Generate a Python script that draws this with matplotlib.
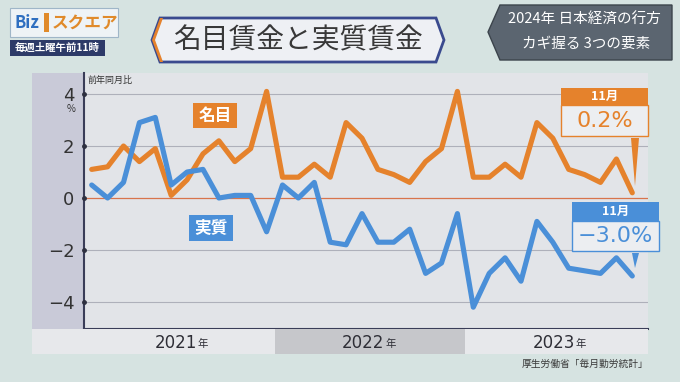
import matplotlib
matplotlib.use("Agg")
import matplotlib.pyplot as plt
from matplotlib.patches import Rectangle, Polygon

plt.rcParams['font.family'] = ['Noto Sans CJK JP', 'DejaVu Sans']

# === データ (前年同月比, %) 2021年1月 〜 2023年11月 ===
years = ['2021', '2022', '2023']
nominal = [1.1, 1.2, 2.0, 1.4, 1.9, 0.1, 0.7, 1.7, 2.2, 1.4, 1.9, 4.1,
           0.8, 0.8, 1.3, 0.8, 2.9, 2.3, 1.1, 0.9, 0.6, 1.4, 1.9, 4.1,
           0.8, 0.8, 1.3, 0.8, 2.9, 2.3, 1.1, 0.9, 0.6, 1.5, 0.2]
real = [0.5, 0.0, 0.6, 2.9, 3.1, 0.5, 1.0, 1.1, 0.0, 0.1, 0.1, -1.3,
        0.5, 0.0, 0.6, -1.7, -1.8, -0.6, -1.7, -1.7, -1.2, -2.9, -2.5, -0.6,
        -4.2, -2.9, -2.3, -3.2, -0.9, -1.7, -2.7, -2.8, -2.9, -2.3, -3.0]
yticks = [-4, -2, 0, 2, 4]
ytick_labels = ['\u22124', '\u22122', '0', '2', '4']
last_month = '11月'
last_nominal = '0.2%'
last_real = '\u22123.0%'

ORANGE = '#e5822c'
BLUE = '#4a8fd8'
W, H = 680, 382

fig = plt.figure(figsize=(6.8, 3.82), dpi=100)
fig.patch.set_facecolor('#d6e3e1')


def px_axes(x0, y0, x1, y1, **kw):
    return fig.add_axes([x0 / W, 1 - y1 / H, (x1 - x0) / W, (y1 - y0) / H], **kw)


# === 背景レイヤー (ピクセル座標) ===
bg = px_axes(0, 0, W, H, zorder=0)
bg.set_xlim(0, W)
bg.set_ylim(H, 0)
bg.axis('off')

# パネル左の列
bg.add_patch(Rectangle((32, 73), 52, 256, fc='#c9cad8', ec='none'))

# ロゴ
bg.add_patch(Rectangle((10, 8), 108, 29, fc='#eef3f6', ec='#9fb6c8', lw=0.8))
bg.text(14, 23, 'Biz', color='#2f6fc0', fontsize=12, fontweight='bold', va='center')
bg.add_patch(Rectangle((44, 13), 5, 19, fc='#e08a2a', ec='none'))
bg.text(52, 23, 'スクエア', color='#e08a2a', fontsize=12, fontweight='bold', va='center')
bg.add_patch(Rectangle((10, 40), 95, 16, fc='#2d3a68', ec='none'))
bg.text(57.5, 48, '毎週土曜午前11時', color='white', fontsize=7.5, fontweight='bold',
        ha='center', va='center')

# タイトル
title_shape = [(160, 18), (436, 18), (444, 40), (436, 62), (160, 62), (152, 40)]
bg.add_patch(Polygon(title_shape, closed=True, fc='#eef0f4', ec='#3a4a8e', lw=2))
bg.add_patch(Polygon([(152, 40), (160, 18), (163, 18), (155, 40), (163, 62), (160, 62)],
                     closed=True, fc=ORANGE, ec='none'))
bg.text(298, 40, '名目賃金と実質賃金', color='#383838', fontsize=20, ha='center', va='center')

# 右上パネル
bg.add_patch(Polygon([(500, 5), (672, 5), (672, 60), (500, 60), (488, 32)],
                     closed=True, fc='#5b6570', ec='#3c444c', lw=1))
bg.text(584, 20, '2024年 日本経済の行方', color='white', fontsize=10.5, ha='center', va='center')
bg.text(586, 44, 'カギ握る 3つの要素', color='white', fontsize=10.5, ha='center', va='center')

# 出典
bg.text(648, 364, '厚生労働省「毎月勤労統計」', color='#3a3a3a', fontsize=7, ha='right', va='center')

# === グラフ本体 ===
x0_px, dx_px = 91.7, 15.9
ax = px_axes(84, 73, 648, 329, zorder=1)
ax.set_facecolor('#e2e4e8')
ax.set_xlim((84 - x0_px) / dx_px, (648 - x0_px) / dx_px)
ax.set_ylim((198 - 329) / 26, (198 - 73) / 26)

months = list(range(len(nominal)))
for v in yticks:
    if v == 0:
        ax.axhline(v, color='#d8744c', lw=0.9, zorder=1)
    else:
        ax.axhline(v, color='#aeb0ba', lw=0.8, zorder=1)

ax.plot(months, nominal, color=ORANGE, lw=3.7, solid_joinstyle='round',
        solid_capstyle='round', zorder=3)
ax.plot(months, real, color=BLUE, lw=3.7, solid_joinstyle='round',
        solid_capstyle='round', zorder=4)

for s in ['top', 'right']:
    ax.spines[s].set_visible(False)
ax.spines['left'].set_color('#3a3d58')
ax.spines['left'].set_linewidth(1.5)
ax.spines['bottom'].set_color('#3a3d58')
ax.spines['bottom'].set_linewidth(1.5)
ax.set_xticks([])
ax.set_yticks(yticks)
ax.set_yticklabels(ytick_labels, fontsize=13, color='#333333', family='DejaVu Sans')
ax.tick_params(axis='y', length=0, pad=7)
ax.plot([ax.get_xlim()[0]] * len(yticks), yticks, 'o', ms=2.5, color='#2e3040',
        clip_on=False, zorder=5)

# === 年の帯 ===
band = px_axes(32, 329, 648, 354, zorder=1)
band.set_xlim((32 - x0_px) / dx_px, (648 - x0_px) / dx_px)
band.set_ylim(0, 1)
band.axis('off')
band.add_patch(Rectangle((band.get_xlim()[0], 0), band.get_xlim()[1] - band.get_xlim()[0], 1,
                         fc='#e7e8eb', ec='none'))
band.axvspan(11.5, 23.5, color='#c6c7cb', lw=0)

# === 前面レイヤー ===
fg = px_axes(0, 0, W, H, zorder=6)
fg.set_xlim(0, W)
fg.set_ylim(H, 0)
fg.axis('off')
fg.patch.set_alpha(0)

fg.text(88, 80, '前年同月比', color='#333333', fontsize=6.5, va='center')
fg.text(71, 109, '%', color='#333333', fontsize=7, ha='center', va='center')

year_pos = [(155, 197), (342, 384), (528, 575)]
for yr, (xa, xb) in zip(years, year_pos):
    fg.text(xb, 343, yr, color='#2e2e36', fontsize=12, ha='right', va='center',
            family='DejaVu Sans')
    fg.text(xb + 1, 344, '年', color='#2e2e36', fontsize=7.5, ha='left', va='center')

# 系列ラベル
fg.add_patch(Rectangle((193, 103), 44, 25, fc=ORANGE, ec='none'))
fg.text(215, 115.5, '名目', color='white', fontsize=12, fontweight='bold', ha='center', va='center')
fg.add_patch(Rectangle((189, 215), 44, 26, fc=BLUE, ec='none'))
fg.text(211, 228, '実質', color='white', fontsize=12, fontweight='bold', ha='center', va='center')

# 11月の吹き出し
fg.add_patch(Rectangle((561, 105), 87, 31, fc='#eceef1', ec=ORANGE, lw=1))
fg.add_patch(Rectangle((561, 88), 87, 17, fc=ORANGE, ec='none'))
fg.text(604.5, 96.5, last_month, color='white', fontsize=9, fontweight='bold', ha='center', va='center')
fg.text(604.5, 121, last_nominal, color=ORANGE, fontsize=16, ha='center', va='center',
        family='DejaVu Sans')
fg.add_patch(Polygon([(631, 138), (639, 138), (635, 186)], closed=True, fc=ORANGE, ec='none'))

fg.add_patch(Rectangle((572, 221), 87, 30, fc='#eceef1', ec=BLUE, lw=1))
fg.add_patch(Rectangle((572, 202), 87, 19, fc=BLUE, ec='none'))
fg.text(615.5, 211.5, last_month, color='white', fontsize=9, fontweight='bold', ha='center', va='center')
fg.text(615.5, 236.5, last_real, color=BLUE, fontsize=16, ha='center', va='center',
        family='DejaVu Sans')
fg.add_patch(Polygon([(632, 253), (639, 253), (635, 268)], closed=True, fc=BLUE, ec='none'))

fig.savefig('out.png', dpi=100, facecolor=fig.get_facecolor())
